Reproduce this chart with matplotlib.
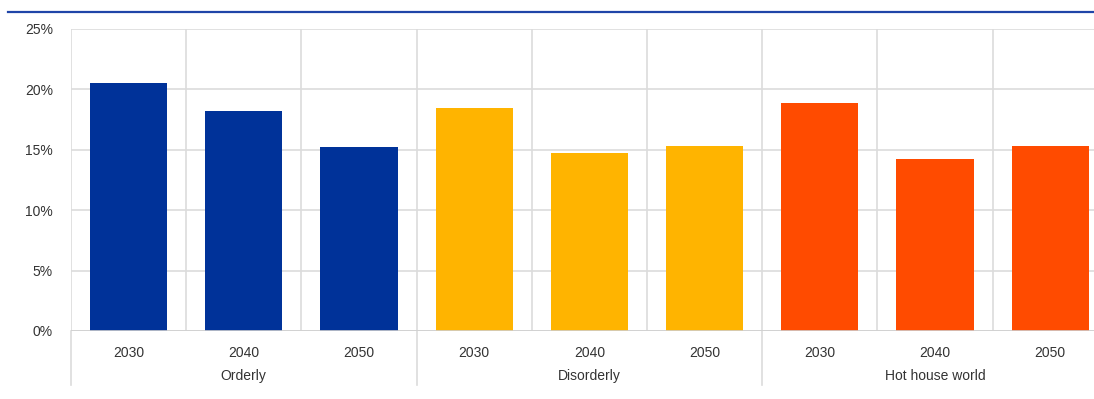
import numpy as np
import matplotlib.pyplot as plt
import matplotlib.transforms as mtransforms

plt.rcParams['font.family'] = ['Liberation Sans', 'DejaVu Sans']

# Werte (in %) je Szenario und Jahr
groups = ['Orderly', 'Disorderly', 'Hot house world']
years = ['2030', '2040', '2050']
orderly = [20.5, 18.2, 15.2]
disorderly = [18.5, 14.7, 15.3]
hot_house = [18.9, 14.2, 15.3]
colors = ['#003299', '#FFB400', '#FF4B00']

W, H = 1094, 399
fig = plt.figure(figsize=(W / 100, H / 100), dpi=100)
ax = fig.add_axes([71 / W, (H - 331) / H, (W - 71) / W, (331 - 29) / H])

# Linie oben
fig.add_artist(plt.Line2D([8 / W, 1.0], [1 - 12 / H, 1 - 12 / H],
                          color='#1f45a8', lw=1.6, transform=fig.transFigure))

series = [orderly, disorderly, hot_house]
for g, (vals, col) in enumerate(zip(series, colors)):
    x = np.arange(len(vals)) + g * len(years)
    ax.bar(x, vals, width=0.67, color=col, zorder=3)

n = len(groups) * len(years)
ax.set_xlim(-0.5, -0.5 + (W - 71) / 115.2)
ax.set_ylim(0, 25)

ax.set_yticks(np.arange(0, 26, 5))
ax.set_yticklabels([f'{v}%' for v in range(0, 26, 5)])
ax.grid(axis='y', color='#dcdcdc', lw=1.2, zorder=0)
for k in range(n + 1):
    ax.axvline(k - 0.5, color='#dcdcdc', lw=1.2, zorder=0)

# Gruppentrenner nach unten verlängert
trans = mtransforms.blended_transform_factory(ax.transData, ax.transAxes)
for g in range(len(groups) + 1):
    ax.plot([g * 3 - 0.5, g * 3 - 0.5], [0, -0.18], color='#dcdcdc', lw=1.2,
            transform=trans, clip_on=False)

ax.set_xticks(np.arange(n))
ax.set_xticklabels(years * len(groups))
for g, name in enumerate(groups):
    ax.text(g * 3 + 1, -0.149, name, transform=trans, ha='center', va='center',
            fontsize=10, color='#333333')

for s in ax.spines.values():
    s.set_visible(False)
ax.axhline(0, color='#cfcfcf', lw=1.2, zorder=4)
ax.tick_params(length=0, labelsize=10, colors='#333333')
ax.tick_params(axis='x', pad=11)
ax.tick_params(axis='y', pad=13)

fig.savefig('out.png', dpi=100)
